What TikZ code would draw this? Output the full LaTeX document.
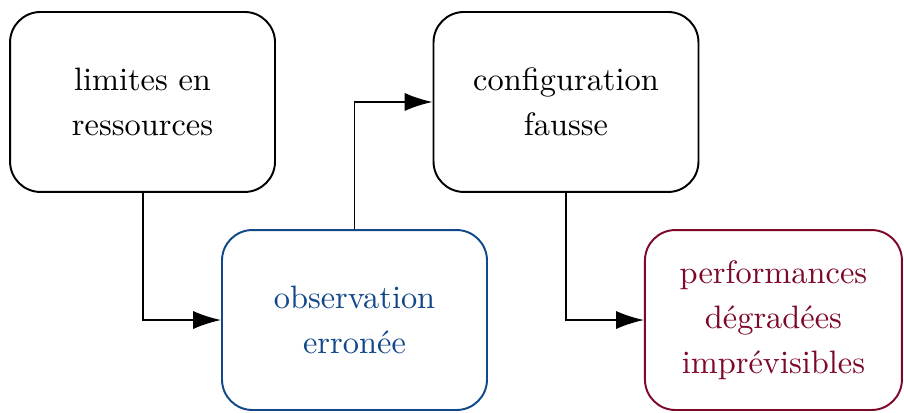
\documentclass[tikz,border=0pt]{standalone}
\usetikzlibrary{arrows.meta}
\definecolor{obsblue}{RGB}{18,72,138}
\definecolor{perfred}{RGB}{125,8,40}

\begin{document}
\begin{tikzpicture}[
    cause/.style={draw, semithick, rounded corners=0.33cm, align=center,
      minimum width=2.874cm, minimum height=1.952cm, inner sep=0pt,
      font=\fontsize{10}{13.9}\selectfont},
    link/.style={semithick, -{Latex[length=8.6pt,width=5.6pt]}}
  ]
\useasboundingbox (0,0) rectangle (9.805,-4.469);

\node[cause] (limites) at (1.546,-1.106) {limites en\\ressources};
\node[cause, obsblue, text=obsblue] (observation) at (3.845,-3.471) {observation\\erronée};
\node[cause] (config) at (6.139,-1.106) {configuration\\fausse};
\node[cause, perfred, text=perfred, minimum width=2.787cm] (perf) at (8.389,-3.471) {performances\\dégradées\\imprévisibles};

\draw[link] (limites.south) |- (observation.west);
\draw[link] (observation.north) |- (config.west);
\draw[link] (config.south) |- (perf.west);
\end{tikzpicture}
\end{document}
